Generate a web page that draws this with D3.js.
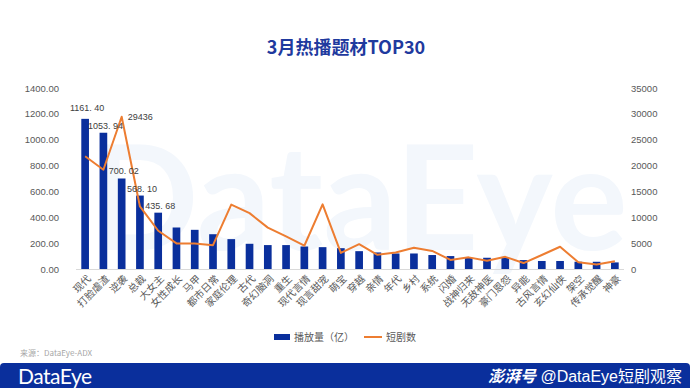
<!DOCTYPE html>
<html>
<head>
<meta charset="utf-8">
<script src="https://cdn.jsdelivr.net/npm/d3@7"></script>
<style>
  body { margin: 0; background: #fff; }
  svg { display: block; font-family: "Noto Sans CJK SC", "Noto Sans", sans-serif; }
</style>
</head>
<body>
<div id="chart"></div>
<script>
const categories = ['现代', '打脸虐渣', '逆袭', '总裁', '大女主', '女性成长', '马甲', '都市日常', '家庭伦理', '古代',
  '奇幻脑洞', '重生', '现代言情', '现言甜宠', '萌宝', '穿越', '亲情', '年代', '乡村', '系统',
  '闪婚', '战神归来', '无敌神医', '豪门恩怨', '异能', '古风言情', '玄幻仙侠', '架空', '传承觉醒', '神豪'];
const plays = [1161.40, 1053.94, 700.02, 568.10, 435.68, 321, 303, 269, 231, 195,
  185, 185, 174, 169, 161, 138, 128, 120, 120, 108,
  100, 87, 87, 89, 69, 62, 62, 56, 56, 51];
const dramas = [21800, 19200, 29436, 12100, 7400, 4950, 4950, 4600, 12450, 10800,
  8000, 6300, 4500, 12500, 3100, 4800, 2750, 3200, 4100, 3500,
  1750, 2250, 1600, 2350, 1150, 2700, 4300, 1300, 850, 1500];
const leftTicks = [0, 200, 400, 600, 800, 1000, 1200, 1400];
const rightTicks = [0, 5000, 10000, 15000, 20000, 25000, 30000, 35000];
const labeledBars = 5;
const labeledPoint = 2;

const width = 690, height = 388;
const svg = d3.select('#chart').append('svg').attr('width', width).attr('height', height);

// faint watermark
svg.append('text')
  .attr('x', 358).attr('y', 250)
  .attr('text-anchor', 'middle')
  .attr('font-family', 'Lato, "Open Sans", sans-serif')
  .attr('font-size', 145)
  .attr('font-weight', 700)
  .attr('fill', '#f3f7fc')
  .text('DataEye');

svg.append('text')
  .attr('x', 346).attr('y', 54)
  .attr('text-anchor', 'middle')
  .attr('font-size', 18)
  .attr('font-weight', 700)
  .attr('fill', '#1f3a9e')
  .text('3月热播题材TOP30');

const x = d3.scaleBand().domain(categories).range([76, 624]).paddingInner(0.58).paddingOuter(0.29);
const yL = d3.scaleLinear().domain([0, 1400]).range([269, 88]);
const yR = d3.scaleLinear().domain([0, 35000]).range([269, 88]);
const cx = (d) => x(d) + x.bandwidth() / 2;

const leftAxis = svg.append('g')
  .attr('transform', 'translate(62,0)')
  .call(d3.axisLeft(yL).tickValues(leftTicks).tickFormat(d3.format('.2f')).tickSize(0).tickPadding(3));
const rightAxis = svg.append('g')
  .attr('transform', 'translate(628,0)')
  .call(d3.axisRight(yR).tickValues(rightTicks).tickFormat(d3.format('d')).tickSize(0).tickPadding(3));
[leftAxis, rightAxis].forEach((g) => {
  g.select('.domain').remove();
  g.selectAll('text').attr('fill', '#595959').attr('font-size', 9.5)
    .attr('font-family', 'Arial, "Liberation Sans", sans-serif');
});

svg.append('line')
  .attr('x1', 76).attr('x2', 624).attr('y1', yL(0) + 0.5).attr('y2', yL(0) + 0.5)
  .attr('stroke', '#d9d9d9');

svg.append('g').selectAll('rect')
  .data(plays)
  .join('rect')
  .attr('x', (d, i) => x(categories[i]))
  .attr('y', (d) => yL(d))
  .attr('width', x.bandwidth())
  .attr('height', (d) => yL(0) - yL(d))
  .attr('fill', '#0a2f9c');

const line = d3.line()
  .x((d, i) => cx(categories[i]))
  .y((d) => yR(d));

svg.append('path')
  .datum(dramas)
  .attr('fill', 'none')
  .attr('stroke', '#ed7d31')
  .attr('stroke-width', 2)
  .attr('stroke-linejoin', 'round')
  .attr('d', line);

svg.append('g').selectAll('text')
  .data(plays.slice(0, labeledBars))
  .join('text')
  .attr('x', (d, i) => cx(categories[i]) + 2)
  .attr('y', (d, i) => yL(d) - (i === 0 ? 8 : 4))
  .attr('text-anchor', 'middle')
  .attr('font-size', 9)
  .attr('fill', '#404040')
  .attr('font-family', 'Arial, "Liberation Sans", sans-serif')
  .text((d) => d3.format('.2f')(d).replace('.', '. '));

svg.append('text')
  .attr('x', cx(categories[labeledPoint]) + 6)
  .attr('y', yR(dramas[labeledPoint]) + 3)
  .attr('font-size', 9)
  .attr('fill', '#404040')
  .attr('font-family', 'Arial, "Liberation Sans", sans-serif')
  .text(dramas[labeledPoint]);

svg.append('g').selectAll('text')
  .data(categories)
  .join('text')
  .attr('transform', (d) => `translate(${cx(d) + 4},${yL(0) + 8}) rotate(-45)`)
  .attr('text-anchor', 'end')
  .attr('dy', '0.35em')
  .attr('font-size', 10)
  .attr('fill', '#595959')
  .text((d) => d);

// legend
const legend = svg.append('g').attr('transform', 'translate(274,337)');
legend.append('rect').attr('x', 0).attr('y', -3).attr('width', 16).attr('height', 6).attr('fill', '#0a2f9c');
legend.append('text').attr('x', 20).attr('y', 0).attr('dy', '0.35em')
  .attr('font-size', 10).attr('fill', '#595959').text('播放量（亿）');
legend.append('line').attr('x1', 90).attr('x2', 108).attr('y1', 0).attr('y2', 0)
  .attr('stroke', '#ed7d31').attr('stroke-width', 2);
legend.append('text').attr('x', 112).attr('y', 0).attr('dy', '0.35em')
  .attr('font-size', 10).attr('fill', '#595959').text('短剧数');

svg.append('text')
  .attr('x', 20).attr('y', 356)
  .attr('font-size', 8)
  .attr('fill', '#a6a6a6')
  .text('来源：DataEye-ADX');

// footer band
svg.append('rect')
  .attr('x', 0).attr('y', 363).attr('width', width).attr('height', 30).attr('rx', 4)
  .attr('fill', '#0a2f9c');
svg.append('text')
  .attr('x', 18).attr('y', 384)
  .attr('font-family', 'Lato, "Open Sans", sans-serif')
  .attr('font-size', 21)
  .attr('letter-spacing', -0.5)
  .attr('fill', '#fff')
  .text('DataEye');
const credit = svg.append('text')
  .attr('x', 682).attr('y', 382)
  .attr('text-anchor', 'end')
  .attr('font-size', 16)
  .attr('fill', '#fff');
credit.append('tspan').attr('font-weight', 700).attr('font-style', 'italic').text('澎湃号');
credit.append('tspan').attr('font-family', 'Arial, "Liberation Sans", "Noto Sans CJK SC", sans-serif').text(' @DataEye短剧观察');
</script>
</body>
</html>
